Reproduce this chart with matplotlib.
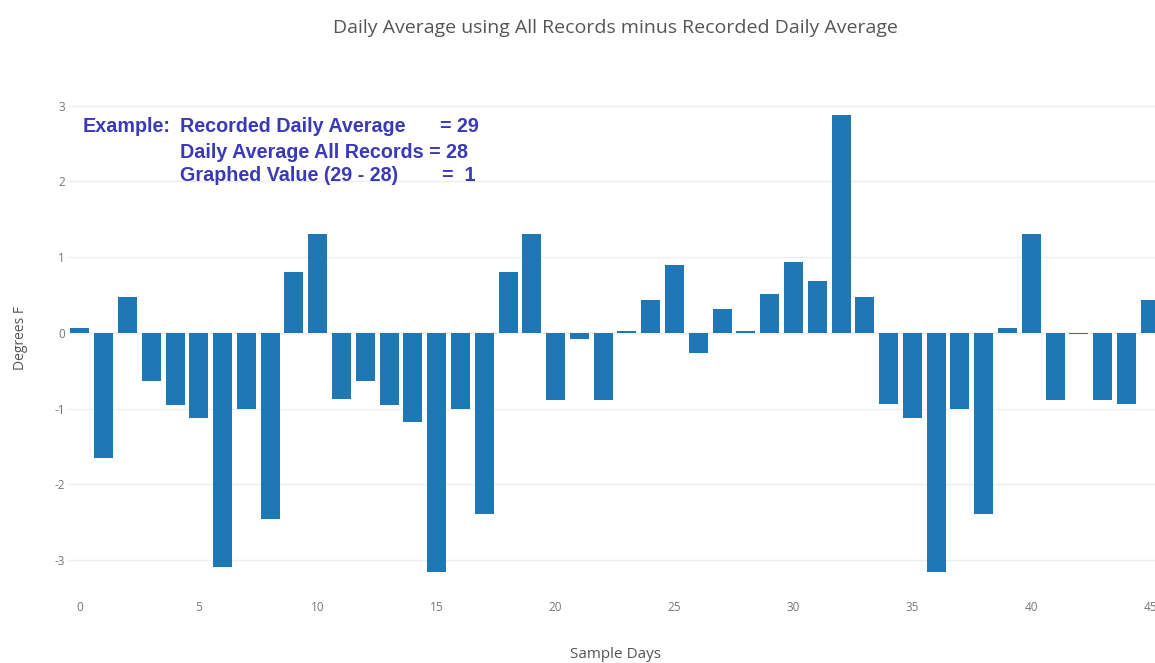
import matplotlib
matplotlib.use("Agg")
import matplotlib.pyplot as plt

days = list(range(46))
values = [0.07, -1.65, 0.48, -0.64, -0.95, -1.12, -3.09, -1.0, -2.46, 0.81,
          1.31, -0.87, -0.64, -0.95, -1.17, -3.15, -1.0, -2.39, 0.81, 1.31,
          -0.88, -0.08, -0.88, 0.03, 0.44, 0.90, -0.26, 0.32, 0.03, 0.52,
          0.94, 0.69, 2.87, 0.48, -0.94, -1.12, -3.15, -1.0, -2.39, 0.07,
          1.31, -0.88, -0.02, -0.88, -0.94, 0.44]
xticks = [0, 5, 10, 15, 20, 25, 30, 35, 40, 45]
yticks = [-3, -2, -1, 0, 1, 2, 3]
ytick_labels = ["-3", "-2", "-1", "0", "1", "2", "3"]

title = "Daily Average using All Records minus Recorded Daily Average"

plt.rcParams['font.family'] = ['Open Sans', 'DejaVu Sans']

W, H = 1155, 663
fig = plt.figure(figsize=(W / 100, H / 100), dpi=100)
left, right, top, bottom = 68, 1155, 98, 583
ax = fig.add_axes([left / W, 1 - bottom / H, (right - left) / W, (bottom - top) / H])

ax.bar(days, values, width=0.8, color="#1f77b4", zorder=3)
ax.set_xlim(-0.5, 45.2)
ax.set_ylim(-3.3, 3.1)
ax.set_xticks(xticks)
ax.set_yticks(yticks)
ax.set_yticklabels(ytick_labels)
ax.grid(axis="y", color="#eeeeee", linewidth=1, zorder=0)
ax.axhline(0, color="#e6e6e6", linewidth=1, zorder=1)
for s in ax.spines.values():
    s.set_visible(False)
ax.tick_params(length=0, labelsize=8.5, labelcolor="#777777")
ax.tick_params(axis="x", pad=13)
ax.tick_params(axis="y", pad=2)

fig.text(615 / W, 1 - 28 / H, title, ha="center", va="center", fontsize=14, color="#555555")
fig.text(616 / W, 1 - 655 / H, "Sample Days", ha="center", va="center", fontsize=11, color="#555555")
fig.text(20 / W, 1 - 338 / H, "Degrees F", ha="center", va="center", rotation=90, fontsize=10, color="#555555")

tc = "#3a3ab8"
fs = 14.2
fam = ["Liberation Sans", "DejaVu Sans"]
kw = dict(ha="left", va="center", fontsize=fs, color=tc, family=fam, weight="bold")
fig.text(83 / W, 1 - 127 / H, "Example:", **kw)
fig.text(180 / W, 1 - 127 / H, "Recorded Daily Average", **kw)
fig.text(440 / W, 1 - 127 / H, "= 29", **kw)
fig.text(180 / W, 1 - 152 / H, "Daily Average All Records = 28", **kw)
fig.text(180 / W, 1 - 176 / H, "Graphed Value (29 - 28)", **kw)
fig.text(442 / W, 1 - 176 / H, "=  1", **kw)

fig.savefig("out.png", dpi=100)
